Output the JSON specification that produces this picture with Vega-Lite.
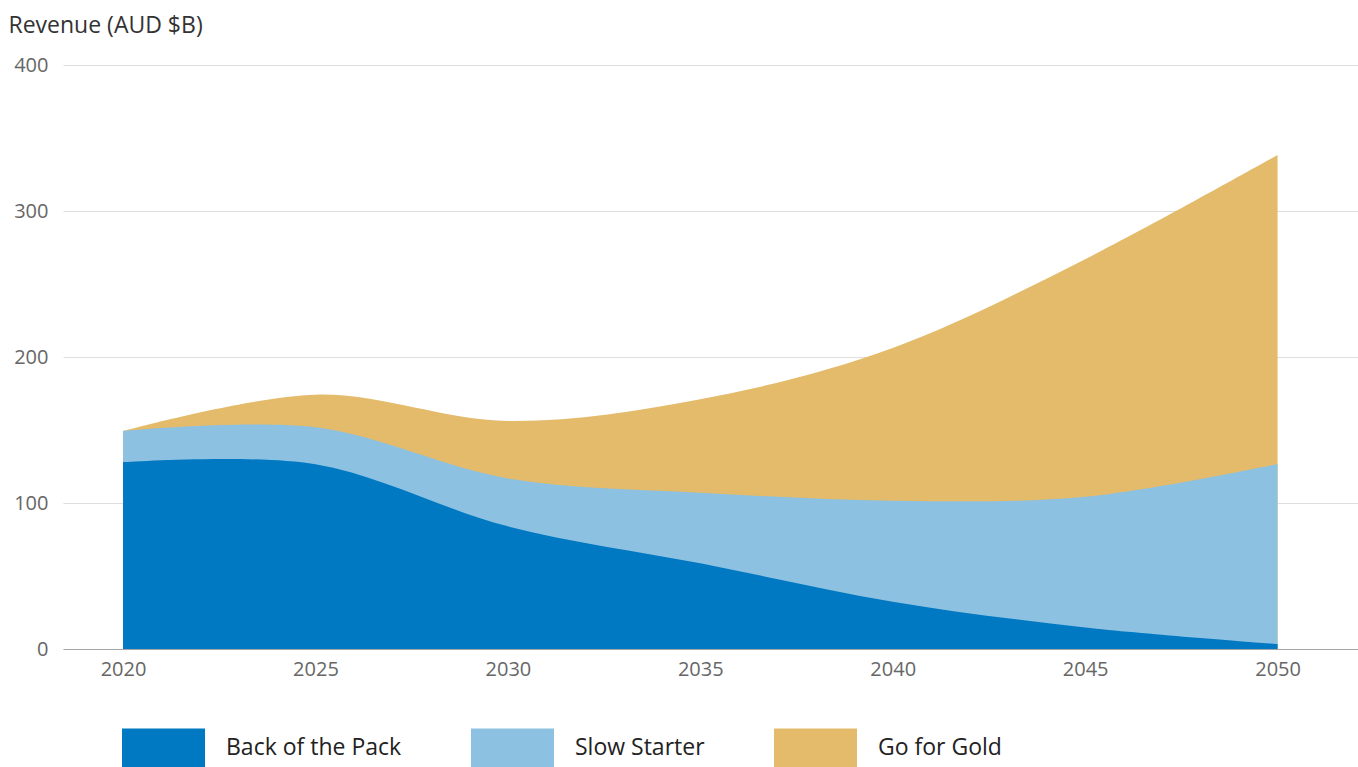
{
  "$schema": "https://vega.github.io/schema/vega-lite/v6.json",
  "width": 1295,
  "height": 584,
  "autosize": {"type": "none"},
  "padding": {"left": 63, "top": 65, "right": 0, "bottom": 118},
  "background": "#ffffff",
  "config": {
    "view": {"stroke": null},
    "font": "Open Sans",
    "axis": {"labelFont": "Open Sans", "titleFont": "Open Sans"},
    "legend": {"labelFont": "Open Sans"}
  },
  "data": {
    "values": [
      {"year": 2020, "scenario": "Back of the Pack", "value": 128},
      {"year": 2025, "scenario": "Back of the Pack", "value": 126.5},
      {"year": 2030, "scenario": "Back of the Pack", "value": 84},
      {"year": 2035, "scenario": "Back of the Pack", "value": 58.7},
      {"year": 2040, "scenario": "Back of the Pack", "value": 32.4},
      {"year": 2045, "scenario": "Back of the Pack", "value": 14.8},
      {"year": 2050, "scenario": "Back of the Pack", "value": 3.4},
      {"year": 2020, "scenario": "Slow Starter", "value": 149.3},
      {"year": 2025, "scenario": "Slow Starter", "value": 151.8},
      {"year": 2030, "scenario": "Slow Starter", "value": 116.8},
      {"year": 2035, "scenario": "Slow Starter", "value": 107.1},
      {"year": 2040, "scenario": "Slow Starter", "value": 101.6},
      {"year": 2045, "scenario": "Slow Starter", "value": 104.3},
      {"year": 2050, "scenario": "Slow Starter", "value": 126.7},
      {"year": 2020, "scenario": "Go for Gold", "value": 149.3},
      {"year": 2025, "scenario": "Go for Gold", "value": 174.2},
      {"year": 2030, "scenario": "Go for Gold", "value": 156.2},
      {"year": 2035, "scenario": "Go for Gold", "value": 171},
      {"year": 2040, "scenario": "Go for Gold", "value": 206.2},
      {"year": 2045, "scenario": "Go for Gold", "value": 267},
      {"year": 2050, "scenario": "Go for Gold", "value": 338.4}
    ]
  },
  "encoding": {
    "x": {
      "field": "year",
      "type": "quantitative",
      "scale": {"domain": [2018.44, 2052.09], "nice": false, "zero": false},
      "axis": {
        "title": null,
        "values": [2020, 2025, 2030, 2035, 2040, 2045, 2050],
        "format": "d",
        "grid": false,
        "ticks": false,
        "tickSize": 0,
        "domain": true,
        "domainColor": "#a6a6a6",
        "domainWidth": 1,
        "labelFontSize": 20,
        "labelColor": "#666666",
        "labelPadding": 10,
        "labelFlush": false
      }
    },
    "y": {
      "field": "value",
      "type": "quantitative",
      "stack": null,
      "scale": {"domain": [0, 400], "nice": false},
      "axis": {
        "title": "Revenue (AUD $B)",
        "titleAngle": 0,
        "titleAlign": "left",
        "titleBaseline": "alphabetic",
        "titleX": -55,
        "titleY": -33,
        "titleFontSize": 23,
        "titleFontWeight": "normal",
        "titleColor": "#333333",
        "values": [0, 100, 200, 300, 400],
        "grid": true,
        "gridColor": "#dddddd",
        "gridWidth": 1,
        "ticks": false,
        "tickSize": 0,
        "domain": false,
        "labelFontSize": 20,
        "labelColor": "#666666",
        "labelPadding": 15
      }
    },
    "color": {
      "field": "scenario",
      "type": "nominal",
      "scale": {
        "domain": ["Back of the Pack", "Slow Starter", "Go for Gold"],
        "range": ["#0079c2", "#8dc1e1", "#e3bb6a"]
      },
      "legend": {
        "title": null,
        "orient": "none",
        "direction": "horizontal",
        "legendX": 59,
        "legendY": 641,
        "padding": 0,
        "symbolType": "M-1,-0.47H1V0.47H-1Z",
        "symbolSize": 6889,
        "symbolStrokeWidth": 0,
        "symbolOpacity": 1,
        "labelFontSize": 23,
        "labelColor": "#222222",
        "labelOffset": 21,
        "columnPadding": 69,
        "labelLimit": 400
      }
    }
  },
  "layer": [
    {
      "transform": [{"filter": "datum.scenario === 'Go for Gold'"}],
      "mark": {"type": "area", "interpolate": "cardinal", "opacity": 1}
    },
    {
      "transform": [{"filter": "datum.scenario === 'Slow Starter'"}],
      "mark": {"type": "area", "interpolate": "cardinal", "opacity": 1}
    },
    {
      "transform": [{"filter": "datum.scenario === 'Back of the Pack'"}],
      "mark": {"type": "area", "interpolate": "cardinal", "opacity": 1}
    }
  ]
}
